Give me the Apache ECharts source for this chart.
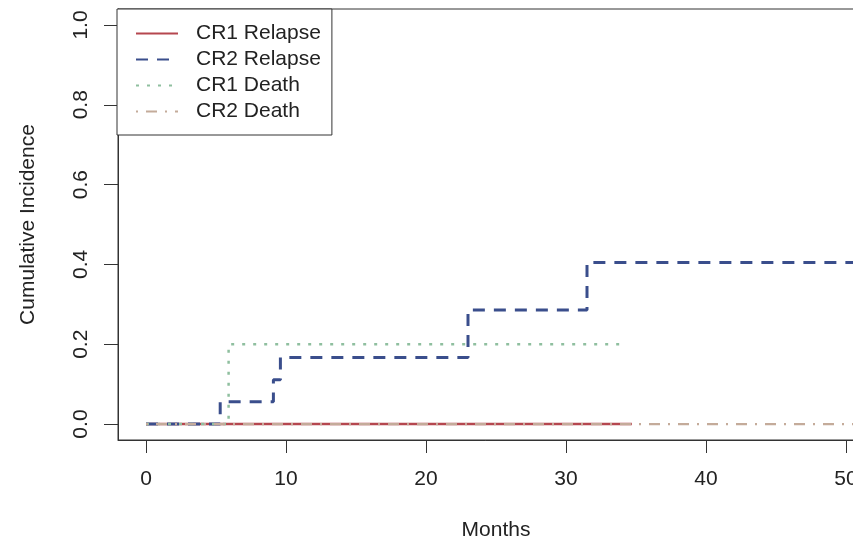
<!DOCTYPE html>
<html><head><meta charset="utf-8">
<script src="https://cdn.jsdelivr.net/npm/echarts@6/dist/echarts.min.js"></script>
<style>html,body{margin:0;padding:0;background:#fff}#c{width:853px;height:543px}</style>
</head><body><div id="c"></div>
<script>
const seriesNames = ['CR1 Relapse', 'CR2 Relapse', 'CR1 Death', 'CR2 Death'];
const cr1RelapseMonths = [0, 34.7];
const cr1RelapseValues = [0, 0];
const cr2RelapseMonths = [0, 5.3, 9.1, 9.6, 23.0, 31.5, 52];
const cr2RelapseValues = [0, 0.056, 0.111, 0.167, 0.286, 0.405, 0.405];
const cr1DeathMonths = [0, 5.9, 34.2];
const cr1DeathValues = [0, 0.2, 0.2];
const cr2DeathMonths = [0, 52];
const cr2DeathValues = [0, 0];
const xTicks = [0, 10, 20, 30, 40, 50];
const yTicks = [0, 0.2, 0.4, 0.6, 0.8, 1.0];

const pairs = (xs, ys) => xs.map((x, i) => [x, ys[i]]);
const colors = ['#b5474f', '#3a4e8c', '#8fbf9f', '#c4ab9a'];
const styles = [
  {width: 2.5, type: 'solid'},
  {width: 3, type: [12, 9]},
  {width: 2.5, type: [3, 8]},
  {width: 2.2, type: [2, 8, 11, 8]}
];
const dataSets = [
  pairs(cr1RelapseMonths, cr1RelapseValues),
  pairs(cr2RelapseMonths, cr2RelapseValues),
  pairs(cr1DeathMonths, cr1DeathValues),
  pairs(cr2DeathMonths, cr2DeathValues)
];
const FONT = 'Liberation Sans, Arial, Helvetica, sans-serif';
const chart = echarts.init(document.getElementById('c'), null, {renderer: 'canvas'});
chart.setOption({
  animation: false,
  backgroundColor: '#ffffff',
  textStyle: {fontFamily: FONT},
  grid: {left: 118, top: 9, width: 756, height: 431, outerBoundsMode: 'none', containLabel: false, show: true, borderColor: '#333', borderWidth: 1, backgroundColor: 'transparent'},
  xAxis: {
    type: 'value', min: -2, max: 52,
    name: 'Months', nameLocation: 'middle', nameGap: 80,
    nameTextStyle: {fontSize: 21, color: '#222', fontFamily: FONT},
    axisLine: {show: true, onZero: false, lineStyle: {color: '#333', width: 1}},
    splitLine: {show: false},
    axisTick: {show: true, inside: false, length: 13, lineStyle: {color: '#333', width: 1}, customValues: xTicks},
    axisLabel: {fontSize: 21, color: '#222', margin: 29, fontFamily: FONT, customValues: xTicks, formatter: v => String(v)}
  },
  yAxis: {
    type: 'value', min: -0.04, max: 1.04,
    name: 'Cumulative Incidence', nameLocation: 'middle', nameGap: 79, nameRotate: 90,
    nameTextStyle: {fontSize: 21, color: '#222', fontFamily: FONT},
    axisLine: {show: true, onZero: false, lineStyle: {color: '#333', width: 1}},
    splitLine: {show: false},
    axisTick: {show: true, inside: false, length: 14, lineStyle: {color: '#333', width: 1}, customValues: yTicks},
    axisLabel: {fontSize: 21, color: '#222', margin: 26, rotate: 90, fontFamily: FONT, customValues: yTicks, formatter: v => v.toFixed(1)}
  },
  legend: {
    data: seriesNames,
    orient: 'vertical',
    left: 117, top: 9,
    padding: [14, 11, 13, 18],
    itemWidth: 42, itemHeight: 14, itemGap: 5,
    backgroundColor: '#ffffff',
    borderColor: '#333', borderWidth: 1, borderRadius: 0,
    selectedMode: false,
    itemStyle: {opacity: 0},
    textStyle: {fontSize: 21, lineHeight: 21, color: '#222', fontFamily: FONT, padding: [0, 0, 0, 13]}
  },
  series: seriesNames.map((name, i) => ({
    name: name,
    type: 'line',
    step: 'end',
    symbol: 'none',
    showSymbol: false,
    clip: true,
    color: colors[i],
    lineStyle: {color: colors[i], width: styles[i].width, type: styles[i].type, cap: 'butt'},
    data: dataSets[i],
    z: 2 + i
  }))
});
</script></body></html>
